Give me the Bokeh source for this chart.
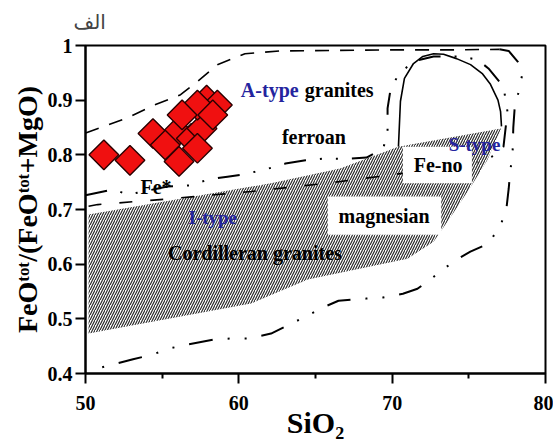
import numpy as np
from bokeh.plotting import figure
from bokeh.models import FixedTicker, CustomJSTickFormatter
from bokeh.core.properties import value
from bokeh.embed import file_html
from bokeh.resources import INLINE

# ---- sample data (SiO2 wt%, FeOtot/(FeOtot+MgO)) ----
sio2 = [57.9, 58.6, 56.0, 56.9, 57.6, 57.3, 58.3, 56.3, 54.4, 55.2, 57.3, 56.1, 51.2, 52.9]
fe_ratio = [0.900, 0.891, 0.842, 0.830, 0.848, 0.891, 0.873, 0.873, 0.839, 0.818, 0.812, 0.788, 0.800, 0.790]

# ---- Cordilleran / I-type + S-type field (hatched) ----
cord_x = [50.2, 62.1, 66.6, 70.4, 77.1, 76.2, 75.2, 73.9, 72.7, 71.0, 64.5, 60.8, 50.2]
cord_y = [0.691, 0.748, 0.775, 0.815, 0.848, 0.790, 0.745, 0.690, 0.641, 0.610, 0.572, 0.528, 0.473]

# ---- A-type granites field, upper boundary (long dashes) ----
atype_top_x = [50.0, 50.1, 52.7, 54.4, 56.2, 57.3, 58.6, 60.4, 62.7, 66.0, 70.0, 74.0, 77.0]
atype_top_y = [0.840, 0.841, 0.867, 0.890, 0.910, 0.934, 0.965, 0.985, 0.990, 0.991, 0.992, 0.992, 0.993]

# ---- A-type granites field, lower boundary (long dashes) ----
atype_low_x = [50.2, 50.8, 55.7, 60.8, 65.7, 69.6, 73.0, 75.5]
atype_low_y = [0.706, 0.709, 0.720, 0.733, 0.748, 0.762, 0.775, 0.785]

# ---- outer boundary (dash-dot-dot): right side and bottom ----
outer_x = [77.0, 77.6, 78.2, 78.5, 78.3, 78.0, 77.9, 77.85, 77.7, 77.6, 77.46, 77.1, 76.3, 75.1,
           74.0, 73.0, 71.65, 70.7, 69.4, 68.3, 66.5, 65.5, 64.35, 63.4, 62.1, 60.6, 59.5,
           58.35, 56.65, 55.5, 54.4, 53.1, 50.5]
outer_y = [0.993, 0.990, 0.970, 0.950, 0.920, 0.890, 0.850, 0.800, 0.770, 0.738, 0.704, 0.673,
           0.638, 0.623, 0.605, 0.583, 0.555, 0.546, 0.539, 0.537, 0.533, 0.521, 0.504, 0.491,
           0.473, 0.464, 0.464, 0.462, 0.453, 0.446, 0.435, 0.426, 0.407]

# ---- ferroan/magnesian boundary (dash-dot-dot) ----
fe_line_x = [50.0, 51.83, 52.74, 55.35, 56.85, 58.02, 59.26, 60.3, 61.94, 63.04, 64.35, 65.46,
             67.09, 68.33, 69.43, 69.70, 69.70, 69.89, 70.41, 71.39, 72.70, 74.46, 75.57, 76.28,
             77.26, 77.52, 77.26, 76.87, 75.57]
fe_line_y = [0.726, 0.737, 0.727, 0.742, 0.744, 0.755, 0.760, 0.764, 0.775, 0.784, 0.790, 0.793,
             0.793, 0.795, 0.812, 0.846, 0.885, 0.919, 0.947, 0.971, 0.980, 0.980, 0.974, 0.958,
             0.925, 0.879, 0.815, 0.801, 0.786]

# ---- S-type field (solid) ----
stype_x = [70.41, 70.54, 70.8, 71.39, 72.0, 72.70, 73.35, 74.2, 75.11, 75.9, 76.41, 76.9, 77.07, 77.13]
stype_y = [0.815, 0.898, 0.940, 0.967, 0.980, 0.985, 0.984, 0.976, 0.965, 0.948, 0.929, 0.900, 0.879, 0.852]

# ---- white label boxes ----
box_left = [65.8, 70.7]
box_right = [73.2, 75.2]
box_bottom = [0.654, 0.748]
box_top = [0.724, 0.815]

# ---- labels ----
black_lbl_x = [64.9, 54.6, 61.05, 69.47, 73.0]
black_lbl_y = [0.833, 0.742, 0.621, 0.689, 0.782]
black_lbl = ["ferroan", "Fe*", "Cordilleran granites", "magnesian", "Fe-no"]
blue_lbl_x = [58.3, 75.37]
blue_lbl_y = [0.685, 0.819]
blue_lbl = ["I-type", "S-type"]

x_ticks = [50, 60, 70, 80]
x_minor = [55, 65, 75]
y_ticks = [0.4, 0.5, 0.6, 0.7, 0.8, 0.9, 1.0]

SERIF = "Liberation Serif"

p = figure(frame_width=460, frame_height=328, x_range=(50, 80), y_range=(0.4, 1.0),
           output_backend="svg", toolbar_location=None,
           min_border_left=85, min_border_right=8, min_border_top=44, min_border_bottom=73)

p.title.text = "الف"
p.title.align = "left"
p.title.offset = -12
p.title.vertical_align = "top"
p.title.text_font = "DejaVu Sans"
p.title.text_font_style = "normal"
p.title.text_font_size = "20px"
p.title.standoff = 19

p.grid.visible = False
p.outline_line_color = "black"
p.outline_line_width = 2
p.outline_line_alpha = 1

# hatched field
p.patch(cord_x, cord_y, fill_color="white", fill_alpha=0, line_color=None,
        hatch_pattern="/", hatch_color="#2a2a2a", hatch_scale=5, hatch_weight=1.2)

# boundaries
p.line(atype_top_x, atype_top_y, line_color="black", line_width=1.6, line_dash="14 11")
p.line(atype_low_x, atype_low_y, line_color="black", line_width=1.6, line_dash="13 18")
p.line(outer_x, outer_y, line_color="black", line_width=2, line_dash="24 15 2 15 2 15")
p.line(fe_line_x, fe_line_y, line_color="black", line_width=2, line_dash="22 14 2 14 2 14")
p.line(stype_x, stype_y, line_color="black", line_width=1.6)

# white label boxes
p.quad(left=box_left, right=box_right, bottom=box_bottom, top=box_top,
       fill_color="white", line_color=None)

# labels
p.text(black_lbl_x, black_lbl_y, text=black_lbl, text_font=value(SERIF), text_font_style="bold",
       text_font_size="20px", text_align="center", text_baseline="middle", text_color="black")
p.text(blue_lbl_x, blue_lbl_y, text=blue_lbl, text_font=value(SERIF), text_font_style="bold",
       text_font_size="19px", text_align="center", text_baseline="middle", text_color="#24249e")
p.text([63.9], [0.919], text=["A-type"], text_font=value(SERIF), text_font_style="bold",
       text_font_size="20px", text_align="right", text_baseline="middle", text_color="#24249e")
p.text([64.3], [0.919], text=["granites"], text_font=value(SERIF), text_font_style="bold",
       text_font_size="20px", text_align="left", text_baseline="middle", text_color="black")

# samples
p.scatter(sio2, fe_ratio, marker="square", angle=np.pi / 4, size=21,
          fill_color="#f01010", line_color="#2a0000", line_width=1.4)

# axes
p.xaxis.ticker = FixedTicker(ticks=x_ticks, minor_ticks=x_minor)
p.yaxis.ticker = FixedTicker(ticks=y_ticks, minor_ticks=[])
p.yaxis.formatter = CustomJSTickFormatter(code="return tick > 0.999 ? '1' : tick.toFixed(1);")
for ax in (p.xaxis[0], p.yaxis[0]):
    ax.axis_line_width = 2
    ax.major_tick_line_width = 2
    ax.minor_tick_line_width = 2
    ax.major_tick_in = 0
    ax.major_tick_out = 10
    ax.minor_tick_in = 0
    ax.minor_tick_out = 5
    ax.major_label_text_font = SERIF
    ax.major_label_text_font_style = "bold"
    ax.major_label_text_font_size = "20px"
    ax.major_label_text_color = "black"
    ax.axis_label_text_font = SERIF
    ax.axis_label_text_font_style = "bold"
    ax.axis_label_text_color = "black"

p.xaxis.axis_label = "SiO₂"
p.xaxis.axis_label_text_font_size = "30px"
p.xaxis.major_label_standoff = 12
p.xaxis.axis_label_standoff = -7
p.yaxis.axis_label = "FeOᵗᵒᵗ/(FeOᵗᵒᵗ+MgO)"
p.yaxis.axis_label_text_font_size = "28px"
p.yaxis.major_label_standoff = 3
p.yaxis.axis_label_standoff = 2

open("out.html", "w").write(file_html(p, INLINE))
